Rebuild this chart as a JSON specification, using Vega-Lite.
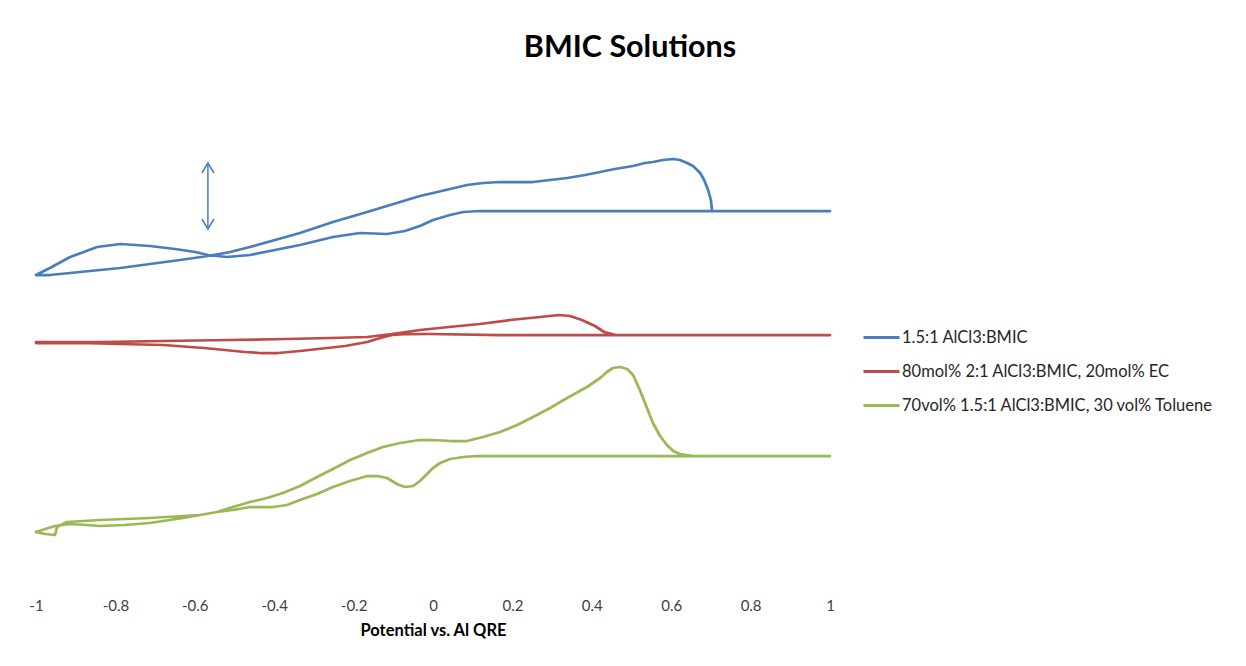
{
  "$schema": "https://vega.github.io/schema/vega-lite/v6.json",
  "autosize": {"type": "none"},
  "padding": {"left": 36, "top": 70, "right": 416, "bottom": 76},
  "width": 794,
  "height": 520,
  "background": "white",
  "config": {"view": {"stroke": null}, "font": "Lato"},
  "title": {"text": "BMIC Solutions", "fontSize": 30.5, "font": "Lato", "fontWeight": "bold", "color": "#000000", "anchor": "middle", "dx": 197, "offset": 7},
  "datasets": {
    "cv": [
      {"s": "1.5:1 AlCl3:BMIC", "o": 1, "x": -1.0, "y": 0.60},
      {"s": "1.5:1 AlCl3:BMIC", "o": 2, "x": -0.965, "y": 0.67},
      {"s": "1.5:1 AlCl3:BMIC", "o": 3, "x": -0.914, "y": 0.78},
      {"s": "1.5:1 AlCl3:BMIC", "o": 4, "x": -0.846, "y": 0.88},
      {"s": "1.5:1 AlCl3:BMIC", "o": 5, "x": -0.788, "y": 0.91},
      {"s": "1.5:1 AlCl3:BMIC", "o": 6, "x": -0.713, "y": 0.89},
      {"s": "1.5:1 AlCl3:BMIC", "o": 7, "x": -0.650, "y": 0.86},
      {"s": "1.5:1 AlCl3:BMIC", "o": 8, "x": -0.599, "y": 0.83},
      {"s": "1.5:1 AlCl3:BMIC", "o": 9, "x": -0.567, "y": 0.80},
      {"s": "1.5:1 AlCl3:BMIC", "o": 10, "x": -0.519, "y": 0.78},
      {"s": "1.5:1 AlCl3:BMIC", "o": 11, "x": -0.461, "y": 0.80},
      {"s": "1.5:1 AlCl3:BMIC", "o": 12, "x": -0.398, "y": 0.85},
      {"s": "1.5:1 AlCl3:BMIC", "o": 13, "x": -0.335, "y": 0.90},
      {"s": "1.5:1 AlCl3:BMIC", "o": 14, "x": -0.252, "y": 0.98},
      {"s": "1.5:1 AlCl3:BMIC", "o": 15, "x": -0.184, "y": 1.02},
      {"s": "1.5:1 AlCl3:BMIC", "o": 16, "x": -0.116, "y": 1.01},
      {"s": "1.5:1 AlCl3:BMIC", "o": 17, "x": -0.071, "y": 1.04},
      {"s": "1.5:1 AlCl3:BMIC", "o": 18, "x": -0.033, "y": 1.09},
      {"s": "1.5:1 AlCl3:BMIC", "o": 19, "x": 0.000, "y": 1.15},
      {"s": "1.5:1 AlCl3:BMIC", "o": 20, "x": 0.043, "y": 1.20},
      {"s": "1.5:1 AlCl3:BMIC", "o": 21, "x": 0.076, "y": 1.23},
      {"s": "1.5:1 AlCl3:BMIC", "o": 22, "x": 0.118, "y": 1.24},
      {"s": "1.5:1 AlCl3:BMIC", "o": 23, "x": 0.421, "y": 1.24},
      {"s": "1.5:1 AlCl3:BMIC", "o": 24, "x": 0.703, "y": 1.24},
      {"s": "1.5:1 AlCl3:BMIC", "o": 25, "x": 1.000, "y": 1.24},
      {"s": "1.5:1 AlCl3:BMIC", "o": 26, "x": 0.703, "y": 1.24},
      {"s": "1.5:1 AlCl3:BMIC", "o": 27, "x": 0.700, "y": 1.35},
      {"s": "1.5:1 AlCl3:BMIC", "o": 28, "x": 0.693, "y": 1.45},
      {"s": "1.5:1 AlCl3:BMIC", "o": 29, "x": 0.683, "y": 1.55},
      {"s": "1.5:1 AlCl3:BMIC", "o": 30, "x": 0.673, "y": 1.62},
      {"s": "1.5:1 AlCl3:BMIC", "o": 31, "x": 0.655, "y": 1.69},
      {"s": "1.5:1 AlCl3:BMIC", "o": 32, "x": 0.640, "y": 1.72},
      {"s": "1.5:1 AlCl3:BMIC", "o": 33, "x": 0.622, "y": 1.75},
      {"s": "1.5:1 AlCl3:BMIC", "o": 34, "x": 0.605, "y": 1.76},
      {"s": "1.5:1 AlCl3:BMIC", "o": 35, "x": 0.579, "y": 1.75},
      {"s": "1.5:1 AlCl3:BMIC", "o": 36, "x": 0.554, "y": 1.73},
      {"s": "1.5:1 AlCl3:BMIC", "o": 37, "x": 0.534, "y": 1.72},
      {"s": "1.5:1 AlCl3:BMIC", "o": 38, "x": 0.504, "y": 1.69},
      {"s": "1.5:1 AlCl3:BMIC", "o": 39, "x": 0.458, "y": 1.66},
      {"s": "1.5:1 AlCl3:BMIC", "o": 40, "x": 0.421, "y": 1.63},
      {"s": "1.5:1 AlCl3:BMIC", "o": 41, "x": 0.383, "y": 1.60},
      {"s": "1.5:1 AlCl3:BMIC", "o": 42, "x": 0.338, "y": 1.57},
      {"s": "1.5:1 AlCl3:BMIC", "o": 43, "x": 0.295, "y": 1.55},
      {"s": "1.5:1 AlCl3:BMIC", "o": 44, "x": 0.252, "y": 1.53},
      {"s": "1.5:1 AlCl3:BMIC", "o": 45, "x": 0.207, "y": 1.53},
      {"s": "1.5:1 AlCl3:BMIC", "o": 46, "x": 0.169, "y": 1.53},
      {"s": "1.5:1 AlCl3:BMIC", "o": 47, "x": 0.126, "y": 1.52},
      {"s": "1.5:1 AlCl3:BMIC", "o": 48, "x": 0.086, "y": 1.50},
      {"s": "1.5:1 AlCl3:BMIC", "o": 49, "x": 0.043, "y": 1.46},
      {"s": "1.5:1 AlCl3:BMIC", "o": 50, "x": 0.000, "y": 1.42},
      {"s": "1.5:1 AlCl3:BMIC", "o": 51, "x": -0.033, "y": 1.39},
      {"s": "1.5:1 AlCl3:BMIC", "o": 52, "x": -0.083, "y": 1.33},
      {"s": "1.5:1 AlCl3:BMIC", "o": 53, "x": -0.166, "y": 1.23},
      {"s": "1.5:1 AlCl3:BMIC", "o": 54, "x": -0.252, "y": 1.13},
      {"s": "1.5:1 AlCl3:BMIC", "o": 55, "x": -0.335, "y": 1.02},
      {"s": "1.5:1 AlCl3:BMIC", "o": 56, "x": -0.398, "y": 0.95},
      {"s": "1.5:1 AlCl3:BMIC", "o": 57, "x": -0.461, "y": 0.88},
      {"s": "1.5:1 AlCl3:BMIC", "o": 58, "x": -0.511, "y": 0.83},
      {"s": "1.5:1 AlCl3:BMIC", "o": 59, "x": -0.567, "y": 0.79},
      {"s": "1.5:1 AlCl3:BMIC", "o": 60, "x": -0.637, "y": 0.75},
      {"s": "1.5:1 AlCl3:BMIC", "o": 61, "x": -0.713, "y": 0.71},
      {"s": "1.5:1 AlCl3:BMIC", "o": 62, "x": -0.788, "y": 0.67},
      {"s": "1.5:1 AlCl3:BMIC", "o": 63, "x": -0.839, "y": 0.65},
      {"s": "1.5:1 AlCl3:BMIC", "o": 64, "x": -0.914, "y": 0.62},
      {"s": "1.5:1 AlCl3:BMIC", "o": 65, "x": -0.965, "y": 0.60},
      {"s": "1.5:1 AlCl3:BMIC", "o": 66, "x": -1.000, "y": 0.60},

      {"s": "80mol% 2:1 AlCl3:BMIC, 20mol% EC", "o": 1, "x": -1.0, "y": -0.07},
      {"s": "80mol% 2:1 AlCl3:BMIC, 20mol% EC", "o": 2, "x": -0.839, "y": -0.07},
      {"s": "80mol% 2:1 AlCl3:BMIC, 20mol% EC", "o": 3, "x": -0.680, "y": -0.06},
      {"s": "80mol% 2:1 AlCl3:BMIC, 20mol% EC", "o": 4, "x": -0.511, "y": -0.05},
      {"s": "80mol% 2:1 AlCl3:BMIC, 20mol% EC", "o": 5, "x": -0.370, "y": -0.04},
      {"s": "80mol% 2:1 AlCl3:BMIC, 20mol% EC", "o": 6, "x": -0.259, "y": -0.03},
      {"s": "80mol% 2:1 AlCl3:BMIC, 20mol% EC", "o": 7, "x": -0.166, "y": -0.02},
      {"s": "80mol% 2:1 AlCl3:BMIC, 20mol% EC", "o": 8, "x": -0.103, "y": 0.01},
      {"s": "80mol% 2:1 AlCl3:BMIC, 20mol% EC", "o": 9, "x": -0.033, "y": 0.05},
      {"s": "80mol% 2:1 AlCl3:BMIC, 20mol% EC", "o": 10, "x": 0.040, "y": 0.08},
      {"s": "80mol% 2:1 AlCl3:BMIC, 20mol% EC", "o": 11, "x": 0.118, "y": 0.11},
      {"s": "80mol% 2:1 AlCl3:BMIC, 20mol% EC", "o": 12, "x": 0.194, "y": 0.15},
      {"s": "80mol% 2:1 AlCl3:BMIC, 20mol% EC", "o": 13, "x": 0.270, "y": 0.18},
      {"s": "80mol% 2:1 AlCl3:BMIC, 20mol% EC", "o": 14, "x": 0.317, "y": 0.20},
      {"s": "80mol% 2:1 AlCl3:BMIC, 20mol% EC", "o": 15, "x": 0.345, "y": 0.19},
      {"s": "80mol% 2:1 AlCl3:BMIC, 20mol% EC", "o": 16, "x": 0.375, "y": 0.15},
      {"s": "80mol% 2:1 AlCl3:BMIC, 20mol% EC", "o": 17, "x": 0.408, "y": 0.09},
      {"s": "80mol% 2:1 AlCl3:BMIC, 20mol% EC", "o": 18, "x": 0.431, "y": 0.03},
      {"s": "80mol% 2:1 AlCl3:BMIC, 20mol% EC", "o": 19, "x": 0.461, "y": 0.00},
      {"s": "80mol% 2:1 AlCl3:BMIC, 20mol% EC", "o": 20, "x": 0.673, "y": 0.00},
      {"s": "80mol% 2:1 AlCl3:BMIC, 20mol% EC", "o": 21, "x": 1.0, "y": 0.00},
      {"s": "80mol% 2:1 AlCl3:BMIC, 20mol% EC", "o": 22, "x": 0.461, "y": 0.00},
      {"s": "80mol% 2:1 AlCl3:BMIC, 20mol% EC", "o": 23, "x": 0.169, "y": 0.00},
      {"s": "80mol% 2:1 AlCl3:BMIC, 20mol% EC", "o": 24, "x": -0.008, "y": 0.01},
      {"s": "80mol% 2:1 AlCl3:BMIC, 20mol% EC", "o": 25, "x": -0.063, "y": 0.01},
      {"s": "80mol% 2:1 AlCl3:BMIC, 20mol% EC", "o": 26, "x": -0.103, "y": 0.00},
      {"s": "80mol% 2:1 AlCl3:BMIC, 20mol% EC", "o": 27, "x": -0.133, "y": -0.03},
      {"s": "80mol% 2:1 AlCl3:BMIC, 20mol% EC", "o": 28, "x": -0.166, "y": -0.07},
      {"s": "80mol% 2:1 AlCl3:BMIC, 20mol% EC", "o": 29, "x": -0.221, "y": -0.11},
      {"s": "80mol% 2:1 AlCl3:BMIC, 20mol% EC", "o": 30, "x": -0.267, "y": -0.13},
      {"s": "80mol% 2:1 AlCl3:BMIC, 20mol% EC", "o": 31, "x": -0.335, "y": -0.16},
      {"s": "80mol% 2:1 AlCl3:BMIC, 20mol% EC", "o": 32, "x": -0.390, "y": -0.18},
      {"s": "80mol% 2:1 AlCl3:BMIC, 20mol% EC", "o": 33, "x": -0.436, "y": -0.18},
      {"s": "80mol% 2:1 AlCl3:BMIC, 20mol% EC", "o": 34, "x": -0.474, "y": -0.17},
      {"s": "80mol% 2:1 AlCl3:BMIC, 20mol% EC", "o": 35, "x": -0.524, "y": -0.15},
      {"s": "80mol% 2:1 AlCl3:BMIC, 20mol% EC", "o": 36, "x": -0.577, "y": -0.13},
      {"s": "80mol% 2:1 AlCl3:BMIC, 20mol% EC", "o": 37, "x": -0.680, "y": -0.10},
      {"s": "80mol% 2:1 AlCl3:BMIC, 20mol% EC", "o": 38, "x": -0.788, "y": -0.09},
      {"s": "80mol% 2:1 AlCl3:BMIC, 20mol% EC", "o": 39, "x": -0.889, "y": -0.08},
      {"s": "80mol% 2:1 AlCl3:BMIC, 20mol% EC", "o": 40, "x": -1.0, "y": -0.08},

      {"s": "70vol% 1.5:1 AlCl3:BMIC, 30 vol% Toluene", "o": 1, "x": -1.0, "y": -1.97},
      {"s": "70vol% 1.5:1 AlCl3:BMIC, 30 vol% Toluene", "o": 2, "x": -0.977, "y": -1.94},
      {"s": "70vol% 1.5:1 AlCl3:BMIC, 30 vol% Toluene", "o": 3, "x": -0.952, "y": -1.91},
      {"s": "70vol% 1.5:1 AlCl3:BMIC, 30 vol% Toluene", "o": 4, "x": -0.914, "y": -1.89},
      {"s": "70vol% 1.5:1 AlCl3:BMIC, 30 vol% Toluene", "o": 5, "x": -0.872, "y": -1.90},
      {"s": "70vol% 1.5:1 AlCl3:BMIC, 30 vol% Toluene", "o": 6, "x": -0.839, "y": -1.91},
      {"s": "70vol% 1.5:1 AlCl3:BMIC, 30 vol% Toluene", "o": 7, "x": -0.776, "y": -1.90},
      {"s": "70vol% 1.5:1 AlCl3:BMIC, 30 vol% Toluene", "o": 8, "x": -0.713, "y": -1.88},
      {"s": "70vol% 1.5:1 AlCl3:BMIC, 30 vol% Toluene", "o": 9, "x": -0.630, "y": -1.83},
      {"s": "70vol% 1.5:1 AlCl3:BMIC, 30 vol% Toluene", "o": 10, "x": -0.544, "y": -1.77},
      {"s": "70vol% 1.5:1 AlCl3:BMIC, 30 vol% Toluene", "o": 11, "x": -0.504, "y": -1.72},
      {"s": "70vol% 1.5:1 AlCl3:BMIC, 30 vol% Toluene", "o": 12, "x": -0.461, "y": -1.67},
      {"s": "70vol% 1.5:1 AlCl3:BMIC, 30 vol% Toluene", "o": 13, "x": -0.418, "y": -1.63},
      {"s": "70vol% 1.5:1 AlCl3:BMIC, 30 vol% Toluene", "o": 14, "x": -0.378, "y": -1.58},
      {"s": "70vol% 1.5:1 AlCl3:BMIC, 30 vol% Toluene", "o": 15, "x": -0.335, "y": -1.51},
      {"s": "70vol% 1.5:1 AlCl3:BMIC, 30 vol% Toluene", "o": 16, "x": -0.292, "y": -1.42},
      {"s": "70vol% 1.5:1 AlCl3:BMIC, 30 vol% Toluene", "o": 17, "x": -0.252, "y": -1.34},
      {"s": "70vol% 1.5:1 AlCl3:BMIC, 30 vol% Toluene", "o": 18, "x": -0.209, "y": -1.25},
      {"s": "70vol% 1.5:1 AlCl3:BMIC, 30 vol% Toluene", "o": 19, "x": -0.166, "y": -1.18},
      {"s": "70vol% 1.5:1 AlCl3:BMIC, 30 vol% Toluene", "o": 20, "x": -0.126, "y": -1.12},
      {"s": "70vol% 1.5:1 AlCl3:BMIC, 30 vol% Toluene", "o": 21, "x": -0.083, "y": -1.08},
      {"s": "70vol% 1.5:1 AlCl3:BMIC, 30 vol% Toluene", "o": 22, "x": -0.033, "y": -1.05},
      {"s": "70vol% 1.5:1 AlCl3:BMIC, 30 vol% Toluene", "o": 23, "x": 0.000, "y": -1.05},
      {"s": "70vol% 1.5:1 AlCl3:BMIC, 30 vol% Toluene", "o": 24, "x": 0.043, "y": -1.06},
      {"s": "70vol% 1.5:1 AlCl3:BMIC, 30 vol% Toluene", "o": 25, "x": 0.086, "y": -1.06},
      {"s": "70vol% 1.5:1 AlCl3:BMIC, 30 vol% Toluene", "o": 26, "x": 0.126, "y": -1.02},
      {"s": "70vol% 1.5:1 AlCl3:BMIC, 30 vol% Toluene", "o": 27, "x": 0.169, "y": -0.97},
      {"s": "70vol% 1.5:1 AlCl3:BMIC, 30 vol% Toluene", "o": 28, "x": 0.212, "y": -0.90},
      {"s": "70vol% 1.5:1 AlCl3:BMIC, 30 vol% Toluene", "o": 29, "x": 0.252, "y": -0.82},
      {"s": "70vol% 1.5:1 AlCl3:BMIC, 30 vol% Toluene", "o": 30, "x": 0.295, "y": -0.73},
      {"s": "70vol% 1.5:1 AlCl3:BMIC, 30 vol% Toluene", "o": 31, "x": 0.338, "y": -0.63},
      {"s": "70vol% 1.5:1 AlCl3:BMIC, 30 vol% Toluene", "o": 32, "x": 0.388, "y": -0.52},
      {"s": "70vol% 1.5:1 AlCl3:BMIC, 30 vol% Toluene", "o": 33, "x": 0.421, "y": -0.43},
      {"s": "70vol% 1.5:1 AlCl3:BMIC, 30 vol% Toluene", "o": 34, "x": 0.438, "y": -0.37},
      {"s": "70vol% 1.5:1 AlCl3:BMIC, 30 vol% Toluene", "o": 35, "x": 0.453, "y": -0.33},
      {"s": "70vol% 1.5:1 AlCl3:BMIC, 30 vol% Toluene", "o": 36, "x": 0.471, "y": -0.32},
      {"s": "70vol% 1.5:1 AlCl3:BMIC, 30 vol% Toluene", "o": 37, "x": 0.489, "y": -0.34},
      {"s": "70vol% 1.5:1 AlCl3:BMIC, 30 vol% Toluene", "o": 38, "x": 0.504, "y": -0.40},
      {"s": "70vol% 1.5:1 AlCl3:BMIC, 30 vol% Toluene", "o": 39, "x": 0.521, "y": -0.55},
      {"s": "70vol% 1.5:1 AlCl3:BMIC, 30 vol% Toluene", "o": 40, "x": 0.539, "y": -0.73},
      {"s": "70vol% 1.5:1 AlCl3:BMIC, 30 vol% Toluene", "o": 41, "x": 0.554, "y": -0.88},
      {"s": "70vol% 1.5:1 AlCl3:BMIC, 30 vol% Toluene", "o": 42, "x": 0.572, "y": -1.01},
      {"s": "70vol% 1.5:1 AlCl3:BMIC, 30 vol% Toluene", "o": 43, "x": 0.589, "y": -1.10},
      {"s": "70vol% 1.5:1 AlCl3:BMIC, 30 vol% Toluene", "o": 44, "x": 0.605, "y": -1.16},
      {"s": "70vol% 1.5:1 AlCl3:BMIC, 30 vol% Toluene", "o": 45, "x": 0.622, "y": -1.19},
      {"s": "70vol% 1.5:1 AlCl3:BMIC, 30 vol% Toluene", "o": 46, "x": 0.655, "y": -1.21},
      {"s": "70vol% 1.5:1 AlCl3:BMIC, 30 vol% Toluene", "o": 47, "x": 0.824, "y": -1.21},
      {"s": "70vol% 1.5:1 AlCl3:BMIC, 30 vol% Toluene", "o": 48, "x": 1.0, "y": -1.21},
      {"s": "70vol% 1.5:1 AlCl3:BMIC, 30 vol% Toluene", "o": 49, "x": 0.421, "y": -1.21},
      {"s": "70vol% 1.5:1 AlCl3:BMIC, 30 vol% Toluene", "o": 50, "x": 0.111, "y": -1.21},
      {"s": "70vol% 1.5:1 AlCl3:BMIC, 30 vol% Toluene", "o": 51, "x": 0.076, "y": -1.22},
      {"s": "70vol% 1.5:1 AlCl3:BMIC, 30 vol% Toluene", "o": 52, "x": 0.043, "y": -1.24},
      {"s": "70vol% 1.5:1 AlCl3:BMIC, 30 vol% Toluene", "o": 53, "x": 0.018, "y": -1.28},
      {"s": "70vol% 1.5:1 AlCl3:BMIC, 30 vol% Toluene", "o": 54, "x": 0.000, "y": -1.33},
      {"s": "70vol% 1.5:1 AlCl3:BMIC, 30 vol% Toluene", "o": 55, "x": -0.015, "y": -1.39},
      {"s": "70vol% 1.5:1 AlCl3:BMIC, 30 vol% Toluene", "o": 56, "x": -0.033, "y": -1.46},
      {"s": "70vol% 1.5:1 AlCl3:BMIC, 30 vol% Toluene", "o": 57, "x": -0.050, "y": -1.51},
      {"s": "70vol% 1.5:1 AlCl3:BMIC, 30 vol% Toluene", "o": 58, "x": -0.071, "y": -1.52},
      {"s": "70vol% 1.5:1 AlCl3:BMIC, 30 vol% Toluene", "o": 59, "x": -0.091, "y": -1.49},
      {"s": "70vol% 1.5:1 AlCl3:BMIC, 30 vol% Toluene", "o": 60, "x": -0.116, "y": -1.43},
      {"s": "70vol% 1.5:1 AlCl3:BMIC, 30 vol% Toluene", "o": 61, "x": -0.141, "y": -1.41},
      {"s": "70vol% 1.5:1 AlCl3:BMIC, 30 vol% Toluene", "o": 62, "x": -0.166, "y": -1.41},
      {"s": "70vol% 1.5:1 AlCl3:BMIC, 30 vol% Toluene", "o": 63, "x": -0.209, "y": -1.46},
      {"s": "70vol% 1.5:1 AlCl3:BMIC, 30 vol% Toluene", "o": 64, "x": -0.252, "y": -1.52},
      {"s": "70vol% 1.5:1 AlCl3:BMIC, 30 vol% Toluene", "o": 65, "x": -0.292, "y": -1.59},
      {"s": "70vol% 1.5:1 AlCl3:BMIC, 30 vol% Toluene", "o": 66, "x": -0.335, "y": -1.65},
      {"s": "70vol% 1.5:1 AlCl3:BMIC, 30 vol% Toluene", "o": 67, "x": -0.368, "y": -1.70},
      {"s": "70vol% 1.5:1 AlCl3:BMIC, 30 vol% Toluene", "o": 68, "x": -0.403, "y": -1.72},
      {"s": "70vol% 1.5:1 AlCl3:BMIC, 30 vol% Toluene", "o": 69, "x": -0.461, "y": -1.72},
      {"s": "70vol% 1.5:1 AlCl3:BMIC, 30 vol% Toluene", "o": 70, "x": -0.504, "y": -1.75},
      {"s": "70vol% 1.5:1 AlCl3:BMIC, 30 vol% Toluene", "o": 71, "x": -0.544, "y": -1.77},
      {"s": "70vol% 1.5:1 AlCl3:BMIC, 30 vol% Toluene", "o": 72, "x": -0.587, "y": -1.80},
      {"s": "70vol% 1.5:1 AlCl3:BMIC, 30 vol% Toluene", "o": 73, "x": -0.713, "y": -1.83},
      {"s": "70vol% 1.5:1 AlCl3:BMIC, 30 vol% Toluene", "o": 74, "x": -0.839, "y": -1.85},
      {"s": "70vol% 1.5:1 AlCl3:BMIC, 30 vol% Toluene", "o": 75, "x": -0.922, "y": -1.87},
      {"s": "70vol% 1.5:1 AlCl3:BMIC, 30 vol% Toluene", "o": 76, "x": -0.947, "y": -1.92},
      {"s": "70vol% 1.5:1 AlCl3:BMIC, 30 vol% Toluene", "o": 77, "x": -0.952, "y": -2.00},
      {"s": "70vol% 1.5:1 AlCl3:BMIC, 30 vol% Toluene", "o": 78, "x": -0.977, "y": -1.99},
      {"s": "70vol% 1.5:1 AlCl3:BMIC, 30 vol% Toluene", "o": 79, "x": -1.0, "y": -1.97}
    ],
    "arrow": [
      {"seg": "shaft", "o": 1, "x": -0.567, "y": 1.72},
      {"seg": "shaft", "o": 2, "x": -0.567, "y": 1.06},
      {"seg": "top", "o": 1, "x": -0.582, "y": 1.62},
      {"seg": "top", "o": 2, "x": -0.567, "y": 1.72},
      {"seg": "top", "o": 3, "x": -0.552, "y": 1.62},
      {"seg": "bottom", "o": 1, "x": -0.582, "y": 1.16},
      {"seg": "bottom", "o": 2, "x": -0.567, "y": 1.06},
      {"seg": "bottom", "o": 3, "x": -0.552, "y": 1.16}
    ]
  },
  "layer": [
    {
      "mark": {"type": "rule", "color": "#a6a6a6", "strokeWidth": 1},
      "encoding": {"y": {"datum": 0, "type": "quantitative", "scale": {"domain": [-2.55, 2.65], "nice": false, "zero": false}, "axis": null}}
    },
    {
      "data": {"name": "cv"},
      "mark": {"type": "line", "strokeWidth": 2.75, "strokeJoin": "round", "strokeCap": "round"},
      "encoding": {
        "x": {"field": "x", "type": "quantitative", "scale": {"domain": [-1, 1], "nice": false, "zero": false},
              "axis": {"title": "Potential vs. Al QRE", "values": [-1, -0.8, -0.6, -0.4, -0.2, 0, 0.2, 0.4, 0.6, 0.8, 1],
                       "labelExpr": "datum.value + ''", "labelFlush": false, "domain": false, "ticks": false, "grid": false,
                       "labelFont": "Lato", "labelFontSize": 15, "labelColor": "#404040", "labelPadding": 8,
                       "titleFont": "Lato", "titleFontSize": 16.5, "titleFontWeight": "bold", "titleColor": "#000000", "titlePadding": 9}},
        "y": {"field": "y", "type": "quantitative", "scale": {"domain": [-2.55, 2.65], "nice": false, "zero": false}, "axis": null},
        "order": {"field": "o", "type": "quantitative"},
        "color": {"field": "s", "type": "nominal",
                  "scale": {"domain": ["1.5:1 AlCl3:BMIC", "80mol% 2:1 AlCl3:BMIC, 20mol% EC", "70vol% 1.5:1 AlCl3:BMIC, 30 vol% Toluene"],
                            "range": ["#4a7ebb", "#be4b48", "#98b954"]},
                  "legend": {"title": null, "orient": "none", "legendX": 826, "legendY": 248, "symbolType": "stroke",
                             "symbolSize": 1296, "symbolStrokeWidth": 3, "labelFont": "Lato", "labelFontSize": 16.5,
                             "labelColor": "#262626", "labelOffset": 1, "rowPadding": 6, "padding": 0, "labelLimit": 400}}
      }
    },
    {
      "data": {"name": "arrow"},
      "mark": {"type": "line", "color": "#4a7ebb", "strokeWidth": 1.5},
      "encoding": {
        "x": {"field": "x", "type": "quantitative"},
        "y": {"field": "y", "type": "quantitative"},
        "detail": {"field": "seg", "type": "nominal"},
        "order": {"field": "o", "type": "quantitative"}
      }
    }
  ]
}
